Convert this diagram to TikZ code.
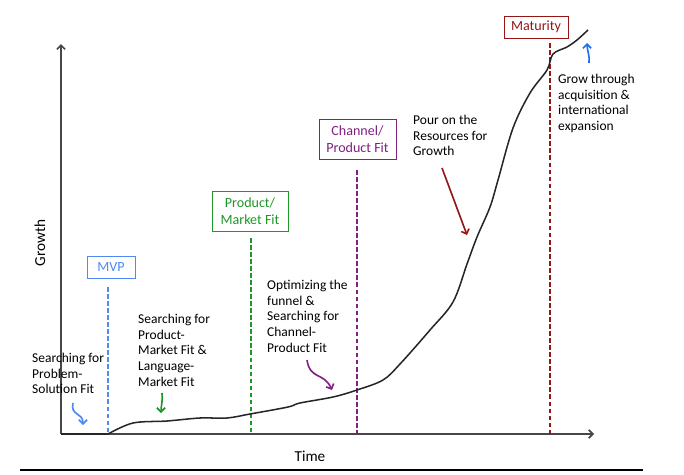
\documentclass[tikz,border=0pt]{standalone}
\usepackage{fontspec}
\setmainfont{Carlito}
\usetikzlibrary{arrows.meta}

\definecolor{mvpblue}{RGB}{79,138,242}
\definecolor{pmfgreen}{RGB}{30,150,40}
\definecolor{cpfpurple}{RGB}{128,32,128}
\definecolor{matred}{RGB}{150,22,22}
\definecolor{growblue}{RGB}{30,110,240}

\begin{document}
\begin{tikzpicture}[x=0.03cm,y=-0.03cm,>={Straight Barb[length=3.5pt,width=7pt]},
  font=\fontsize{11.5}{13.6}\selectfont]
  \tikzstyle{stage}=[draw,line width=0.8pt,inner sep=2pt,align=center,
    font=\fontsize{12}{14.5}\selectfont]
  \tikzstyle{note}=[align=left,anchor=north west,inner sep=0pt]
  \tikzstyle{marker}=[dash pattern=on 4pt off 2pt,line width=1.2pt]
  \tikzstyle{axis}=[->,line width=1.5pt,black!72]
  \tikzstyle{hint}=[->,line width=1.4pt]
  \tikzstyle{label}=[font=\fontsize{13}{15}\selectfont]

  \useasboundingbox (0,0) rectangle (684,474);

  % axes
  \coordinate (origin) at (61,434);
  \coordinate (xend)   at (594,434);
  \coordinate (yend)   at (61,44);
  \draw[axis] (origin) -- (xend);
  \draw[axis] (origin) -- (yend);
  \node[label] (growth) [rotate=90] at (40,243) {Growth};
  \node[label] (time) at (310,456) {Time};
  \coordinate (ruleL) at (20,470);
  \coordinate (ruleR) at (643,470);
  \draw[line width=1pt] (ruleL) -- (ruleR);

  % milestones
  \node[stage,text=mvpblue,draw=mvpblue,minimum width=1.44cm,minimum height=0.66cm]
    (mvp) at (111,267) {MVP};
  \node[stage,text=pmfgreen,draw=pmfgreen,minimum width=2.28cm,minimum height=1.2cm]
    (pmf) at (250,211) {Product/\\Market Fit};
  \node[stage,text=cpfpurple,draw=cpfpurple,minimum width=2.31cm,minimum height=1.2cm]
    (cpf) at (357.5,139) {Channel/\\Product Fit};
  \node[stage,text=matred,draw=matred,minimum width=1.92cm,minimum height=0.66cm]
    (mat) at (536,27) {Maturity};

  \coordinate (mvpTop) at (108,287);
  \coordinate (pmfTop) at (251,238);
  \coordinate (cpfTop) at (357,170);
  \coordinate (matTop) at (550,43);
  \draw[marker,mvpblue]   (mvpTop) -- (mvpTop |- origin);
  \draw[marker,pmfgreen]  (pmfTop) -- (pmfTop |- origin);
  \draw[marker,cpfpurple] (cpfTop) -- (cpfTop |- origin);
  \draw[marker,matred]    (matTop) -- (matTop |- origin);

  % growth curve
  \draw[line width=1.3pt,black!85,line join=round] (origin) -- (108,434)
    -- plot[smooth,tension=0.55] coordinates {(108,434) (133,423) (167,421)
      (200,418) (227,418) (250,414) (288,407) (300,403) (333,397) (357,390)
      (383,380) (400,364) (430,330) (453,302) (467,264) (477,237) (490,207)
      (498,180) (513,128) (530,93) (547,70) (553,54) (567,47) (577,40) (588,30)};

  % phase notes
  \node[note] (probSol) at (32,352.5) {Searching for\\Problem-\\Solution Fit};
  \node[note] (pmSearch) at (138,313.5) {Searching for\\Product-\\Market Fit \&\\Language-\\Market Fit};
  \node[note] (funnel) at (267,279.5) {Optimizing the\\funnel \&\\Searching for\\Channel-\\Product Fit};
  \node[note] (pour) at (413,114.5) {Pour on the\\Resources for\\Growth};
  \node[note] (grow) at (558,73.5) {Grow through\\acquisition \&\\international\\expansion};

  \coordinate (psA) at (73,403);  \coordinate (psB) at (83,425);
  \coordinate (pmA) at (162,393); \coordinate (pmB) at (161,413);
  \coordinate (fuA) at (307,360); \coordinate (fuB) at (332,390);
  \coordinate (poA) at (442,168); \coordinate (poB) at (467,235);
  \coordinate (grA) at (589,63);  \coordinate (grB) at (587,43);
  \draw[hint,mvpblue]   (psA) .. controls (70,416) and (83,412) .. (psB);
  \draw[hint,pmfgreen]  (pmA) .. controls (163,400) and (161,406) .. (pmB);
  \draw[hint,cpfpurple] (fuA) .. controls (310,380) and (324,372) .. (fuB);
  \draw[hint,matred]    (poA) -- (poB);
  \draw[hint,growblue]  (grA) .. controls (590,56) and (587,50) .. (grB);
\end{tikzpicture}
\end{document}
